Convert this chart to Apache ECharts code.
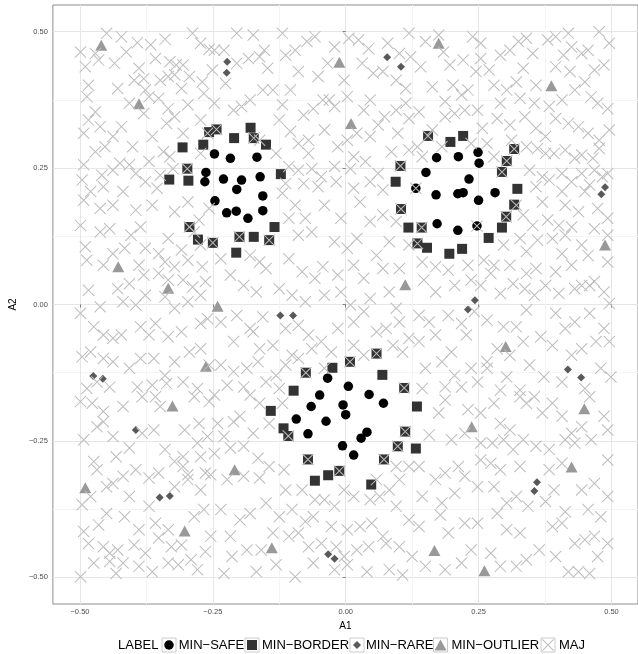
<!DOCTYPE html>
<html>
<head>
<meta charset="utf-8">
<title>A1 / A2 scatter</title>
<script src="https://cdn.jsdelivr.net/npm/echarts@6/dist/echarts.min.js"></script>
<style>
  html, body { margin: 0; padding: 0; background: #fff; }
  #chart { width: 638px; height: 654px; }
</style>
</head>
<body>
<div id="chart"></div>
<script>
// values, [A1, A2]
const safePoints = [
  [-0.247,0.276],[-0.217,0.268],[-0.167,0.270],[-0.263,0.242],[-0.265,0.225],[-0.230,0.230],[-0.196,0.228],[-0.161,0.234],
  [-0.205,0.211],[-0.156,0.199],[-0.246,0.190],[-0.224,0.168],[-0.206,0.171],[-0.156,0.172],[-0.184,0.158],
  [0.171,0.269],[0.212,0.271],[0.249,0.279],[0.251,0.259],[0.151,0.242],[0.232,0.230],[0.132,0.213],[0.170,0.201],
  [0.211,0.203],[0.221,0.205],[0.250,0.191],[0.281,0.205],[0.172,0.148],[0.211,0.136],[0.247,0.144],
  [-0.034,-0.135],[0.005,-0.150],[0.044,-0.165],[0.071,-0.181],[-0.049,-0.166],[-0.065,-0.187],[-0.005,-0.184],[0.000,-0.202],
  [-0.093,-0.210],[-0.037,-0.214],[-0.071,-0.237],[0.040,-0.234],[0.029,-0.245],[-0.006,-0.259],[0.015,-0.276]
];
const borderPoints = [
  [-0.257,0.316],[-0.243,0.321],[-0.179,0.324],[-0.173,0.305],[-0.210,0.305],[-0.150,0.293],[-0.268,0.293],[-0.307,0.288],
  [-0.298,0.249],[-0.332,0.229],[-0.296,0.227],[-0.122,0.239],[-0.294,0.142],[-0.278,0.119],[-0.250,0.113],[-0.200,0.124],
  [-0.173,0.124],[-0.144,0.118],[-0.134,0.142],[-0.206,0.095],
  [0.155,0.309],[0.197,0.298],[0.221,0.309],[0.317,0.285],[0.303,0.263],[0.294,0.243],[0.103,0.254],[0.094,0.225],
  [0.104,0.175],[0.323,0.212],[0.317,0.183],[0.302,0.161],[0.294,0.141],[0.269,0.122],[0.118,0.141],[0.143,0.141],
  [0.135,0.112],[0.153,0.104],[0.195,0.093],[0.219,0.102],
  [0.058,-0.090],[0.008,-0.105],[-0.025,-0.116],[-0.075,-0.125],[0.069,-0.129],[0.110,-0.153],[-0.098,-0.158],[-0.141,-0.195],
  [0.134,-0.187],[-0.117,-0.227],[-0.108,-0.241],[0.112,-0.233],[0.098,-0.260],[0.132,-0.264],[-0.071,-0.284],[0.072,-0.284],
  [-0.012,-0.305],[-0.033,-0.313],[-0.058,-0.323],[0.048,-0.330]
];
const rarePoints = [
  [-0.223,0.445],[-0.224,0.425],[0.078,0.453],[0.104,0.436],[0.488,0.215],[0.481,0.202],[-0.123,-0.020],[-0.099,-0.020],
  [0.243,0.008],[0.230,-0.009],[0.418,-0.119],[0.443,-0.134],[-0.475,-0.131],[-0.457,-0.136],[-0.395,-0.230],
  [-0.350,-0.354],[-0.331,-0.351],[-0.033,-0.458],[-0.021,-0.466],[0.360,-0.326],[0.355,-0.342]
];
const outlierPoints = [
  [-0.460,0.475],[-0.389,0.368],[-0.012,0.444],[0.010,0.332],[0.175,0.479],[0.387,0.401],[-0.428,0.069],[-0.334,0.030],
  [-0.241,-0.003],[-0.263,-0.113],[0.112,0.036],[0.488,0.109],[0.301,-0.077],[-0.326,-0.186],[-0.490,-0.336],[-0.303,-0.415],
  [-0.209,-0.303],[-0.139,-0.446],[0.237,-0.224],[0.449,-0.191],[0.425,-0.298],[0.167,-0.451],[0.261,-0.488]
];
const majTop = [
  [-0.499,0.463],[-0.471,0.460],[-0.450,0.497],[-0.422,0.491],[-0.392,0.480],[-0.367,0.476],[-0.340,0.486],[-0.288,0.497],[-0.273,0.479],[-0.257,0.468],
  [-0.490,0.436],[-0.465,0.448],[-0.435,0.442],[-0.413,0.463],[-0.389,0.433],[-0.358,0.451],[-0.331,0.445],[-0.319,0.439],[-0.306,0.439],[-0.334,0.418],
  [-0.484,0.402],[-0.487,0.381],[-0.429,0.396],[-0.398,0.411],[-0.380,0.414],[-0.349,0.411],[-0.322,0.421],[-0.294,0.418],[-0.270,0.408],
  [-0.377,0.393],[-0.370,0.381],[-0.352,0.378],[-0.334,0.359],[-0.309,0.396],[-0.297,0.366],[-0.267,0.387],
  [-0.471,0.353],[-0.484,0.338],[-0.462,0.326],[-0.493,0.314],[-0.422,0.326],[-0.407,0.369],[-0.380,0.350],[-0.364,0.308],[-0.337,0.332],[-0.322,0.344],
  [-0.306,0.314],[-0.273,0.338],[-0.260,0.314],[-0.438,0.308],[-0.471,0.280],[-0.453,0.289],[-0.401,0.289],[-0.343,0.280],[-0.331,0.271],[-0.273,0.277],
  [-0.493,0.256],[-0.459,0.237],[-0.438,0.246],[-0.425,0.259],[-0.407,0.256],[-0.395,0.240],[-0.370,0.262],[-0.349,0.237],[-0.325,0.249],
  [-0.496,0.228],[-0.480,0.207],[-0.456,0.216],[-0.419,0.207],[-0.377,0.225],[-0.355,0.213],
  [-0.247,0.466],[-0.229,0.466],[-0.205,0.497],[-0.174,0.494],[-0.153,0.466],[-0.119,0.497],[-0.095,0.466],[-0.073,0.482],[-0.058,0.491],[-0.021,0.472],
  [0.006,0.488],[0.024,0.485],[0.043,0.469],[0.079,0.479],[0.101,0.460],[0.119,0.497],[0.122,0.454],
  [-0.251,0.430],[-0.226,0.405],[-0.205,0.442],[-0.183,0.451],[-0.162,0.454],[-0.147,0.433],[-0.113,0.457],[-0.089,0.427],[-0.052,0.418],[-0.034,0.442],
  [-0.003,0.411],[0.031,0.442],[0.052,0.424],[0.070,0.427],[0.095,0.411],[0.113,0.396],
  [-0.247,0.369],[-0.211,0.356],[-0.196,0.363],[-0.180,0.375],[-0.156,0.393],[-0.137,0.393],[-0.119,0.366],[-0.104,0.393],[-0.079,0.347],[-0.061,0.359],
  [-0.043,0.375],[-0.031,0.375],[-0.021,0.363],[0.003,0.381],[0.034,0.356],[0.046,0.375],[0.073,0.344],[0.095,0.356],[0.113,0.369],
  [-0.162,0.301],[-0.125,0.338],[-0.104,0.317],[-0.089,0.295],[-0.070,0.301],[-0.070,0.277],[-0.040,0.320],[-0.015,0.289],[0.003,0.301],[0.021,0.314],
  [0.046,0.308],[0.061,0.329],[0.098,0.314],[0.119,0.341],[0.015,0.271],
  [-0.131,0.277],[-0.107,0.253],[-0.089,0.246],[-0.064,0.249],[-0.046,0.234],[-0.021,0.253],[0.009,0.249],[0.037,0.262],[0.061,0.240],[0.086,0.280],[0.119,0.283],
  [-0.113,0.222],[-0.079,0.222],[-0.052,0.216],[-0.018,0.225],[0.015,0.213],[0.046,0.225],[0.070,0.210],[-0.119,0.204],
  [0.150,0.482],[0.175,0.494],[0.184,0.463],[0.141,0.436],[0.196,0.439],[0.221,0.448],[0.239,0.491],[0.254,0.479],[0.254,0.451],[0.245,0.427],
  [0.270,0.430],[0.291,0.457],[0.309,0.466],[0.325,0.482],[0.340,0.488],[0.352,0.460],[0.380,0.485],[0.395,0.491],[0.410,0.457],[0.419,0.497],
  [0.425,0.472],[0.444,0.460],[0.456,0.466],[0.477,0.500],[0.496,0.479],[0.395,0.436],[0.422,0.427],[0.468,0.430],[0.486,0.439],
  [0.163,0.399],[0.187,0.372],[0.202,0.402],[0.218,0.384],[0.230,0.393],[0.279,0.402],[0.291,0.369],[0.303,0.393],[0.321,0.408],[0.334,0.433],
  [0.358,0.402],[0.328,0.378],[0.355,0.369],[0.383,0.363],[0.407,0.375],[0.431,0.393],[0.450,0.408],[0.462,0.381],[0.474,0.369],[0.493,0.359],
  [0.138,0.353],[0.163,0.320],[0.187,0.344],[0.205,0.350],[0.224,0.356],[0.248,0.356],[0.257,0.323],[0.285,0.341],[0.309,0.329],[0.337,0.344],
  [0.358,0.323],[0.376,0.308],[0.395,0.341],[0.419,0.332],[0.438,0.326],[0.456,0.314],[0.477,0.301],[0.496,0.320],
  [0.135,0.289],[0.144,0.271],[0.181,0.289],[0.236,0.295],[0.266,0.295],[0.279,0.271],[0.312,0.301],[0.340,0.289],[0.361,0.286],[0.376,0.277],
  [0.392,0.277],[0.413,0.283],[0.431,0.268],[0.444,0.274],[0.465,0.268],[0.477,0.286],
  [0.346,0.246],[0.370,0.234],[0.383,0.228],[0.407,0.240],[0.425,0.225],[0.444,0.240],[0.468,0.246],[0.483,0.234],[0.493,0.240],[0.450,0.207],
  [0.407,0.207],[0.358,0.216],[0.459,0.219]
];
const majMiddle = [
  [-0.493,0.191],[-0.462,0.176],[-0.438,0.182],[-0.395,0.173],[-0.364,0.182],[-0.322,0.170],[-0.297,0.188],[-0.276,0.155],[-0.257,0.176],
  [-0.499,0.145],[-0.462,0.133],[-0.444,0.139],[-0.404,0.127],[-0.386,0.142],[-0.334,0.121],[-0.309,0.100],[-0.285,0.133],[-0.273,0.109],
  [-0.490,0.106],[-0.487,0.081],[-0.456,0.072],[-0.438,0.093],[-0.416,0.103],[-0.389,0.072],[-0.377,0.103],[-0.352,0.093],[-0.340,0.078],[-0.322,0.069],
  [-0.297,0.081],[-0.270,0.069],[-0.484,0.026],[-0.429,0.029],[-0.407,0.038],[-0.380,0.054],[-0.352,0.057],[-0.334,0.045],[-0.306,0.045],[-0.288,0.032],
  [-0.264,0.042],[-0.499,-0.016],[-0.462,-0.004],[-0.419,0.005],[-0.395,-0.001],[-0.377,0.017],[-0.340,0.014],[-0.322,-0.007],[-0.297,0.005],[-0.273,0.017],
  [-0.474,-0.041],[-0.456,-0.056],[-0.438,-0.062],[-0.422,-0.056],[-0.386,-0.041],[-0.370,-0.056],[-0.358,-0.035],[-0.334,-0.059],[-0.309,-0.050],[-0.273,-0.035],
  [-0.260,-0.026],[-0.496,-0.096],[-0.480,-0.087],[-0.456,-0.099],[-0.438,-0.105],[-0.407,-0.117],[-0.386,-0.099],[-0.361,-0.099],[-0.340,-0.130],[-0.322,-0.105],
  [-0.294,-0.087],[-0.273,-0.081],[-0.257,-0.111],[-0.487,-0.154],[-0.468,-0.142],[-0.444,-0.151],[-0.392,-0.151],[-0.364,-0.148],[-0.337,-0.145],[-0.306,-0.142],
  [-0.279,-0.154],
  [-0.095,0.182],[-0.076,0.158],[-0.040,0.182],[-0.009,0.158],[0.027,0.188],[0.046,0.152],[0.070,0.164],[0.095,0.152],[-0.107,0.158],
  [-0.089,0.127],[-0.064,0.133],[-0.021,0.115],[0.003,0.103],[0.021,0.121],[0.058,0.090],[0.082,0.115],[0.119,0.109],
  [-0.235,0.084],[-0.180,0.090],[-0.162,0.078],[-0.150,0.066],[-0.107,0.084],[-0.082,0.060],[-0.058,0.048],[-0.043,0.069],[-0.015,0.054],[0.015,0.072],
  [0.034,0.048],[0.070,0.066],[0.101,0.066],[-0.217,0.054],[-0.192,0.035],[-0.168,0.023],[-0.125,0.029],[-0.101,0.017],[-0.076,0.005],[-0.040,0.017],
  [-0.009,0.023],[0.009,-0.001],[0.046,0.011],[0.082,0.023],[0.095,-0.007],
  [-0.235,-0.032],[-0.205,-0.020],[-0.180,-0.044],[-0.156,-0.023],[-0.113,-0.044],[-0.089,-0.038],[-0.070,-0.056],[-0.046,-0.068],[-0.015,-0.044],[0.015,-0.032],
  [0.034,-0.013],[0.058,-0.050],[0.076,-0.044],[0.101,-0.032],[0.119,-0.062],[-0.211,-0.068],[-0.174,-0.050],[-0.162,-0.081],[-0.137,-0.075],[-0.101,-0.093],
  [-0.064,-0.081],[-0.027,-0.087],[0.015,-0.075],[0.089,-0.075],[0.107,-0.087],[-0.235,-0.111],[-0.211,-0.123],[-0.186,-0.117],[-0.165,-0.105],[-0.131,-0.130],
  [-0.113,-0.111],[-0.089,-0.099],[-0.040,-0.117],[0.034,-0.093],[-0.223,-0.148],[-0.192,-0.151],[-0.150,-0.142],[-0.125,-0.154],
  [0.370,0.188],[0.413,0.182],[0.438,0.170],[0.474,0.176],[0.493,0.158],[0.321,0.182],[0.334,0.164],[0.352,0.145],[0.380,0.155],[0.401,0.145],
  [0.425,0.142],[0.468,0.139],[0.493,0.127],[0.297,0.109],[0.328,0.121],[0.340,0.097],[0.361,0.118],[0.389,0.121],[0.413,0.127],[0.444,0.109],
  [0.407,0.093],[0.456,0.090],[0.493,0.078],[0.144,0.078],[0.169,0.069],[0.193,0.063],[0.230,0.072],[0.260,0.081],[0.279,0.072],[0.273,0.057],
  [0.309,0.072],[0.340,0.057],[0.358,0.066],[0.395,0.060],[0.425,0.072],[0.444,0.035],[0.468,0.042],[0.486,0.023],
  [0.147,0.045],[0.169,0.023],[0.205,0.035],[0.236,0.045],[0.254,0.035],[0.291,0.020],[0.315,0.038],[0.337,0.029],[0.355,0.017],[0.376,0.035],
  [0.401,0.020],[0.431,0.029],[0.459,0.035],[0.496,0.002],
  [0.138,-0.020],[0.157,-0.032],[0.193,-0.020],[0.218,-0.035],[0.242,-0.013],[0.266,-0.029],[0.297,-0.041],[0.321,-0.041],[0.340,-0.010],[0.367,-0.059],
  [0.395,-0.016],[0.413,-0.044],[0.431,-0.032],[0.459,-0.016],[0.486,-0.044],[0.496,-0.068],[0.138,-0.068],[0.169,-0.056],[0.199,-0.087],[0.227,-0.056],
  [0.266,-0.105],[0.285,-0.081],[0.309,-0.093],[0.334,-0.068],[0.389,-0.075],[0.425,-0.093],[0.444,-0.081],[0.471,-0.068],
  [0.150,-0.117],[0.181,-0.105],[0.205,-0.130],[0.236,-0.117],[0.266,-0.117],[0.303,-0.133],[0.346,-0.111],[0.373,-0.133],[0.407,-0.142],[0.450,-0.154],
  [0.480,-0.117],[0.499,-0.133],[0.144,-0.154],[0.187,-0.151],[0.218,-0.151],[0.248,-0.142],[0.291,-0.157],[0.328,-0.157]
];
const majBottom = [
  [-0.499,-0.178],[-0.477,-0.181],[-0.456,-0.196],[-0.419,-0.187],[-0.383,-0.169],[-0.358,-0.169],[-0.349,-0.187],[-0.303,-0.230],[-0.285,-0.169],[-0.276,-0.218],
  [-0.257,-0.178],[-0.493,-0.248],[-0.468,-0.224],[-0.456,-0.215],[-0.438,-0.242],[-0.407,-0.263],[-0.383,-0.236],[-0.361,-0.230],[-0.340,-0.266],[-0.306,-0.279],
  [-0.279,-0.254],[-0.260,-0.242],[-0.474,-0.288],[-0.468,-0.303],[-0.432,-0.279],[-0.419,-0.315],[-0.395,-0.303],[-0.370,-0.318],[-0.352,-0.309],[-0.322,-0.288],
  [-0.306,-0.297],[-0.297,-0.321],[-0.273,-0.279],[-0.264,-0.309],[-0.496,-0.367],[-0.480,-0.352],[-0.450,-0.334],[-0.438,-0.328],[-0.407,-0.352],[-0.370,-0.370],
  [-0.322,-0.334],[-0.297,-0.312],[-0.273,-0.340],[-0.493,-0.416],[-0.465,-0.404],[-0.450,-0.383],[-0.416,-0.389],[-0.389,-0.413],[-0.358,-0.401],[-0.334,-0.413],
  [-0.285,-0.389],[-0.267,-0.376],[-0.484,-0.438],[-0.456,-0.444],[-0.444,-0.456],[-0.429,-0.450],[-0.398,-0.441],[-0.377,-0.456],[-0.352,-0.428],[-0.328,-0.444],
  [-0.309,-0.441],[-0.291,-0.468],[-0.264,-0.453],[-0.499,-0.499],[-0.474,-0.474],[-0.444,-0.471],[-0.419,-0.474],[-0.389,-0.480],[-0.364,-0.490],[-0.334,-0.474],
  [-0.315,-0.477],[-0.279,-0.486],[-0.432,-0.493],
  [-0.247,-0.166],[-0.180,-0.166],[-0.162,-0.181],[-0.199,-0.205],[-0.241,-0.218],[-0.211,-0.215],[-0.174,-0.236],[-0.119,-0.181],[-0.144,-0.218],[-0.229,-0.242],
  [-0.165,-0.282],[-0.192,-0.260],[-0.247,-0.273],[-0.217,-0.263],[-0.254,-0.312],[-0.223,-0.321],[-0.192,-0.315],[-0.162,-0.318],[-0.144,-0.297],[-0.116,-0.303],
  [-0.113,-0.340],[-0.082,-0.340],[-0.058,-0.358],[-0.040,-0.358],[-0.021,-0.370],[-0.003,-0.340],[0.015,-0.352],[0.046,-0.358],[0.064,-0.352],[0.082,-0.340],
  [0.101,-0.321],[0.119,-0.297],[0.058,-0.321],[0.095,-0.297],[-0.235,-0.376],[-0.199,-0.395],[-0.180,-0.383],[-0.150,-0.364],[-0.125,-0.389],[-0.101,-0.376],
  [-0.076,-0.398],[-0.061,-0.389],[-0.027,-0.407],[0.003,-0.413],[0.027,-0.407],[0.049,-0.401],[0.070,-0.425],[0.119,-0.395],[0.095,-0.370],
  [-0.254,-0.425],[-0.217,-0.425],[-0.186,-0.450],[-0.159,-0.450],[-0.137,-0.419],[-0.107,-0.425],[-0.089,-0.419],[-0.070,-0.444],[-0.046,-0.438],[-0.018,-0.444],
  [-0.003,-0.462],[0.021,-0.450],[0.043,-0.444],[0.076,-0.438],[0.101,-0.444],[0.125,-0.462],[-0.229,-0.493],[-0.214,-0.462],[-0.168,-0.490],[-0.131,-0.477],
  [-0.095,-0.499],[-0.061,-0.474],[-0.021,-0.486],[0.003,-0.477],[0.040,-0.490],[0.082,-0.486],[0.107,-0.496],
  [0.175,-0.199],[0.187,-0.175],[0.230,-0.193],[0.254,-0.199],[0.279,-0.181],[0.291,-0.218],[0.309,-0.230],[0.328,-0.169],[0.340,-0.181],[0.355,-0.169],
  [0.370,-0.199],[0.389,-0.181],[0.407,-0.205],[0.425,-0.236],[0.444,-0.224],[0.459,-0.169],[0.486,-0.205],[0.493,-0.230],[0.157,-0.239],[0.199,-0.248],
  [0.224,-0.236],[0.254,-0.254],[0.276,-0.254],[0.297,-0.248],[0.315,-0.266],[0.334,-0.248],[0.358,-0.260],[0.383,-0.266],[0.413,-0.248],[0.431,-0.254],
  [0.462,-0.248],[0.493,-0.285],[0.138,-0.297],[0.169,-0.321],[0.187,-0.309],[0.212,-0.297],[0.224,-0.315],[0.254,-0.285],[0.273,-0.291],[0.291,-0.303],
  [0.328,-0.297],[0.383,-0.303],[0.407,-0.291],[0.444,-0.340],[0.468,-0.328],[0.493,-0.352],[0.144,-0.352],[0.181,-0.364],[0.205,-0.346],[0.248,-0.334],
  [0.279,-0.334],[0.303,-0.364],[0.321,-0.352],[0.343,-0.370],[0.376,-0.361],[0.392,-0.340],[0.413,-0.380],[0.456,-0.376],[0.480,-0.389],
  [0.138,-0.407],[0.178,-0.386],[0.193,-0.419],[0.224,-0.401],[0.248,-0.401],[0.285,-0.383],[0.303,-0.413],[0.328,-0.419],[0.389,-0.407],[0.407,-0.401],
  [0.431,-0.438],[0.450,-0.431],[0.468,-0.425],[0.493,-0.438],[0.150,-0.480],[0.187,-0.486],[0.218,-0.474],[0.236,-0.450],[0.273,-0.456],[0.291,-0.480],
  [0.321,-0.480],[0.340,-0.468],[0.364,-0.450],[0.395,-0.462],[0.419,-0.490],[0.438,-0.490],[0.459,-0.493],[0.474,-0.462]
];
// MAJ crosses drawn over minority marks
const majOnMinority = [
  [-0.243,0.321],[-0.298,0.249],[-0.294,0.142],[-0.250,0.113],[-0.200,0.124],[-0.144,0.118],[-0.173,0.305],
  [0.155,0.309],[0.103,0.254],[0.104,0.175],[0.143,0.141],[0.135,0.112],[0.317,0.285],[0.303,0.263],[0.294,0.243],
  [0.302,0.161],[0.132,0.213],[0.247,0.144],
  [0.058,-0.090],[0.008,-0.105],[-0.075,-0.125],[0.110,-0.153],[-0.108,-0.241],[0.112,-0.233],[0.098,-0.260],
  [-0.071,-0.284],[0.072,-0.284],[-0.012,-0.305]
];
const majorTicks = [-0.5, -0.25, 0, 0.25, 0.5];
const minorTicks = [-0.375, -0.125, 0.125, 0.375];
const labelNames = ['MIN\u2212SAFE', 'MIN\u2212BORDER', 'MIN\u2212RARE', 'MIN\u2212OUTLIER', 'MAJ'];

const font = '"Liberation Sans", Arial, Helvetica, sans-serif';
const crossPath = 'path://M0,6L6,0L100,94L94,100ZM94,0L100,6L6,100L0,94Z';

const styles = [
  { symbol: 'circle', size: [9.5, 9.5], color: '#000000' },
  { symbol: 'rect', size: [10, 10], color: '#333333' },
  { symbol: 'diamond', size: [8, 8], color: '#595959' },
  { symbol: 'triangle', size: [12, 11], color: '#999999' },
  { symbol: crossPath, size: [12, 12], color: '#bdbdbd' }
];
const seriesData = [
  safePoints, borderPoints, rarePoints, outlierPoints,
  majTop.concat(majMiddle, majBottom, majOnMinority)
];
const keyCenters = [169, 252, 357, 440.5, 548];

const tickFmt = v => v.toFixed(2).replace('-', '\u2212');

function valueAxis(extra) {
  return Object.assign({
    type: 'value',
    axisLine: { show: false },
    axisTick: { show: true, length: 3, customValues: majorTicks, lineStyle: { color: '#7f7f7f' } },
    axisLabel: { customValues: majorTicks, formatter: tickFmt, fontSize: 7.5, color: '#4d4d4d', fontFamily: font },
    splitLine: { show: true, lineStyle: { color: '#e6e6e6', width: 1 } },
    nameTextStyle: { fontSize: 10, color: '#000', fontFamily: font }
  }, extra);
}
function minorAxis(extra) {
  return Object.assign({
    type: 'value',
    axisLine: { show: false },
    axisTick: { show: false, customValues: minorTicks },
    axisLabel: { show: false },
    splitLine: { show: true, lineStyle: { color: '#f4f4f4', width: 1 } }
  }, extra);
}

const chart = echarts.init(document.getElementById('chart'), null, { renderer: 'canvas' });
chart.setOption({
  animation: false,
  backgroundColor: '#ffffff',
  grid: {
    left: 48, right: -10, top: 5, bottom: 50,
    show: true, borderColor: '#8c8c8c', borderWidth: 1, backgroundColor: '#ffffff'
  },
  xAxis: [
    valueAxis({ min: -0.551, max: 0.550, name: 'A1', nameLocation: 'middle', nameGap: 15,
      axisLabel: { customValues: majorTicks, formatter: tickFmt, fontSize: 7.5, color: '#4d4d4d', fontFamily: font, margin: 4 } }),
    minorAxis({ min: -0.551, max: 0.550, position: 'top' })
  ],
  yAxis: [
    valueAxis({ min: -0.549, max: 0.549, name: 'A2', nameLocation: 'middle', nameGap: 27, nameRotate: 90,
      axisLabel: { customValues: majorTicks, formatter: tickFmt, fontSize: 7.5, color: '#4d4d4d', fontFamily: font, margin: 5 } }),
    minorAxis({ min: -0.549, max: 0.549, position: 'right' })
  ],
  legend: labelNames.map((name, i) => ({
    data: [name],
    left: keyCenters[i] - styles[i].size[0] / 2,
    top: 638.5,
    padding: 0,
    itemWidth: styles[i].size[0],
    itemHeight: styles[i].size[1],
    selectedMode: false,
    textStyle: { fontSize: 13, color: '#000', fontFamily: font }
  })),
  graphic: [
    { type: 'text', x: 118, y: 645, silent: true,
      style: { text: 'LABEL', fontSize: 13, fontFamily: font, fill: '#000', verticalAlign: 'middle' } }
  ].concat(keyCenters.map(c => ({
    type: 'rect', silent: true, z: -1,
    shape: { x: c - 7, y: 638, width: 14, height: 14 },
    style: { fill: '#ffffff', stroke: '#cccccc', lineWidth: 1 }
  }))),
  series: labelNames.map((name, i) => ({
    name: name,
    type: 'scatter',
    data: seriesData[i],
    symbol: styles[i].symbol,
    symbolSize: styles[i].size,
    itemStyle: { color: styles[i].color, opacity: 1 },
    emphasis: { disabled: true },
    z: 2 + i
  }))
});
</script>
</body>
</html>
